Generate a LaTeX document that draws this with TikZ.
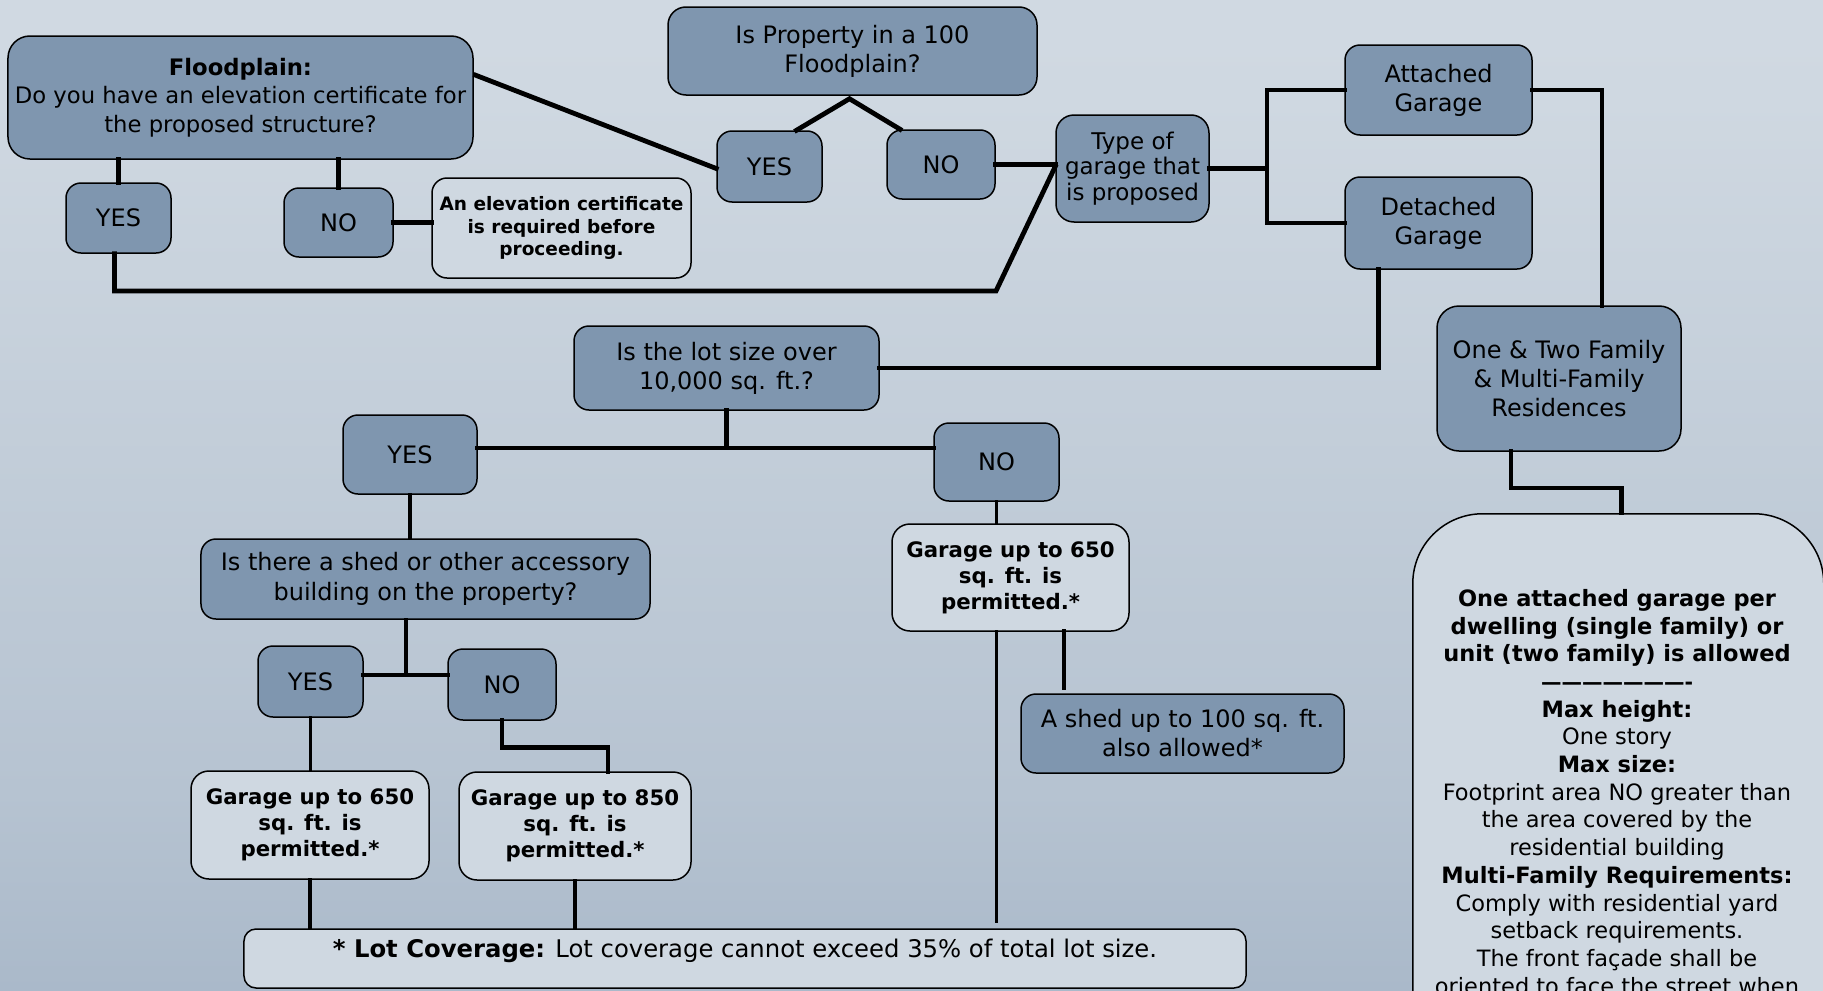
\documentclass[tikz,border=0pt]{standalone}
\usepackage{fontspec}
\setmainfont{DejaVu Sans}
\usetikzlibrary{calc}
\definecolor{bgtop}{HTML}{D8E0E8}
\definecolor{bgup}{HTML}{CFD8E1}
\definecolor{bgmid}{HTML}{B6C3D1}
\definecolor{bgbot}{HTML}{8CA0B7}
\definecolor{boxdark}{HTML}{7F96AF}
\definecolor{boxlight}{HTML}{CFD8E1}
\pgfdeclareverticalshading{bgshade}{100bp}{color(0bp)=(bgbot); color(35bp)=(bgmid); color(70bp)=(bgup); color(100bp)=(bgtop)}
\tikzset{
  base/.style={draw=black, line width=1.5bp, rounded corners=15bp, align=center, inner sep=0pt, text=black},
  darkbox/.style={base, fill=boxdark, font=\fontsize{24bp}{29bp}\selectfont},
  lightbox/.style={base, fill=boxlight, font=\fontsize{21.3bp}{26bp}\selectfont\bfseries},
  conn/.style={draw=black, line width=4.8bp, line cap=rect},
  thinconn/.style={draw=black, line width=3.8bp, line cap=rect},
}
\begin{document}
\begin{tikzpicture}[x=1bp, y=-1bp]
\useasboundingbox (0,0) rectangle (1823,990);
\clip (0,0) rectangle (1823,990);
\shade[shading=bgshade] (0,0) rectangle (1823,990);

% nodes
\node[darkbox, rounded corners=22bp, minimum width=465bp, minimum height=123bp, font=\fontsize{22.7bp}{28.5bp}\selectfont] (fp) at (240.5,97.5) {{\bfseries Floodplain:}\\Do you have an elevation certificate for\\the proposed structure?};
\node[darkbox, rounded corners=18bp, minimum width=369bp, minimum height=88bp] (isprop) at (852.5,51) {Is Property in a 100\\Floodplain?};
\node[darkbox, minimum width=105bp, minimum height=71bp] (yes1) at (769.5,166.5) {YES};
\node[darkbox, minimum width=108bp, minimum height=69bp] (no1) at (941,164.5) {NO};
\node[darkbox, rounded corners=18bp, minimum width=153bp, minimum height=107bp, font=\fontsize{23bp}{25.6bp}\selectfont] (type) at (1132.5,168.5) {Type of\\garage that\\is proposed};
\node[darkbox, minimum width=187bp, minimum height=90bp] (att) at (1438.5,90) {Attached\\Garage};
\node[darkbox, minimum width=187bp, minimum height=92bp] (det) at (1438.5,223) {Detached\\Garage};
\node[darkbox, rounded corners=22bp, minimum width=244bp, minimum height=145bp] (onetwo) at (1559,378.5) {One \& Two Family\\\& Multi-Family\\Residences};
\node[darkbox, minimum width=105bp, minimum height=70bp] (yesfp) at (118.5,218) {YES};
\node[darkbox, minimum width=109bp, minimum height=69bp] (nofp) at (338.5,222.5) {NO};
\node[lightbox, minimum width=259bp, minimum height=100bp, font=\fontsize{18.5bp}{22.7bp}\selectfont\bfseries] (elev) at (561.5,228) {An elevation certificate\\is required before\\proceeding.};
\node[darkbox, minimum width=305bp, minimum height=84bp] (lot) at (726.5,368) {Is the lot size over\\10,000 sq. ft.?};
\node[darkbox, minimum width=134bp, minimum height=79bp] (yeslot) at (410,454.5) {YES};
\node[darkbox, minimum width=125bp, minimum height=78bp] (nolot) at (996.5,462) {NO};
\node[darkbox, minimum width=449bp, minimum height=80bp, font=\fontsize{24bp}{30bp}\selectfont] (shedq) at (425.5,579) {Is there a shed or other accessory\\building on the property?};
\node[darkbox, minimum width=105bp, minimum height=71bp] (yesshed) at (310.5,681.5) {YES};
\node[darkbox, minimum width=108bp, minimum height=71bp] (noshed) at (502,684.5) {NO};
\node[lightbox, rounded corners=18bp, minimum width=238bp, minimum height=108bp] (g650l) at (310,825) {Garage up to 650\\sq. ft. is\\permitted.*};
\node[lightbox, rounded corners=18bp, minimum width=232bp, minimum height=108bp] (g850) at (575,826) {Garage up to 850\\sq. ft. is\\permitted.*};
\node[lightbox, rounded corners=18bp, minimum width=237bp, minimum height=107bp] (g650m) at (1010.5,577.5) {Garage up to 650\\sq. ft. is\\permitted.*};
\node[darkbox, minimum width=323bp, minimum height=79bp] (shed) at (1182.5,733.5) {A shed up to 100 sq. ft.\\also allowed*};
\node[lightbox, rounded corners=12bp, minimum width=1002bp, minimum height=59bp] (cov) at (745,958.5) {};
\node[anchor=center, inner sep=0pt, font=\fontsize{24.3bp}{26bp}\selectfont] (covtext) at (745,951) {{\bfseries * Lot Coverage:} Lot coverage cannot exceed 35\%\ of total lot size.};
\node[lightbox, rounded corners=70bp, anchor=north west, minimum width=411bp, minimum height=560bp] (rules) at (1412,513) {};
\node[anchor=north, inner sep=0pt, align=center, font=\fontsize{22.5bp}{27.7bp}\selectfont] (rulestext) at (1617,589) {%
{\bfseries One attached garage per}\\
{\bfseries dwelling (single family) or}\\
{\bfseries unit (two family) is allowed}\\
{\fontsize{20.5bp}{27.7bp}\selectfont\bfseries ———————-}\\
{\bfseries Max height:}\\
One story\\
{\bfseries Max size:}\\
Footprint area NO greater than\\
the area covered by the\\
residential building\\
{\bfseries Multi-Family Requirements:}\\
Comply with residential yard\\
setback requirements.\\
The front façade shall be\\
oriented to face the street when};

% connectors
\coordinate (br) at (1267,0);
\coordinate (j1) at (728,448);
\coordinate (j2) at (406,675);
\draw[conn] ($(fp.north east)+(2,40)$) -- ($(yes1.west)+(0,2)$);
\draw[conn] ($(yes1.north)+(27,0)$) -- ($(isprop.south)+(-3,3)$) -- ($(no1.north)+(-41,0)$);
\draw[conn] (no1.east) -- (type.west |- no1.east);
\draw[conn] ($(yesfp.south)+(-4,0)$) |- (996,291) -- ($(type.west)+(0,-2)$);
\draw[conn] (yesfp.north) -- (yesfp.north |- fp.south);
\draw[conn] (nofp.north) -- (nofp.north |- fp.south);
\draw[conn] (nofp.east) -- (elev.west |- nofp.east);
\draw[conn] (type.east) -- (br |- type.east);
\draw[conn] (att.west) -| (br |- type.east) |- (det.west);
\draw[conn] (att.east) -| ($(onetwo.north)+(43,0)$);
\draw[conn] ($(det.south)+(-60,0)$) |- (lot.east);
\draw[conn] (lot.south) -- (lot.south |- j1);
\draw[conn] (yeslot.east |- j1) -- (nolot.west |- j1);
\draw[thinconn] (yeslot.south) -- (shedq.north -| yeslot.south);
\draw[thinconn] (shedq.south -| j2) -- (j2);
\draw[conn] (yesshed.east |- j2) -- (noshed.west |- j2);
\draw[thinconn] (yesshed.south) -- (g650l.north -| yesshed.south);
\draw[conn] (noshed.south) |- ($(g850.north)+(33,-24)$) -- ($(g850.north)+(33,0)$);
\draw[thinconn] (g650l.south) -- (g650l.south |- cov.north);
\draw[thinconn] (g850.south) -- (g850.south |- cov.north);
\draw[thinconn] (nolot.south) -- (g650m.north -| nolot.south);
\draw[thinconn] (nolot.south |- g650m.south) -- ($(nolot.south |- cov.north)+(0,-7)$);
\draw[conn] ($(g650m.south)+(53.5,0)$) -- ($(g650m.south)+(53.5,56)$);
\draw[conn] ($(onetwo.south)+(-48,0)$) |- ($(rules.north)+(3,-25)$) -- ($(rules.north)+(3,0)$);
\end{tikzpicture}
\end{document}
